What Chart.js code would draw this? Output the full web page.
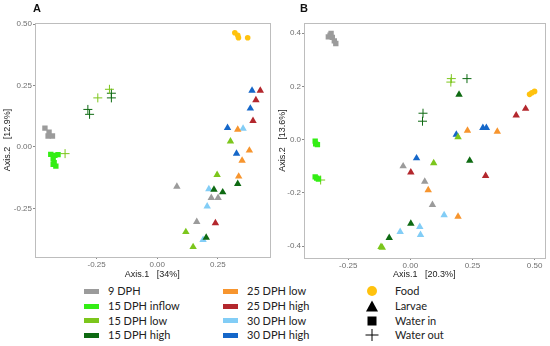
<!DOCTYPE html>
<html>
<head>
<meta charset="utf-8">
<script src="https://cdn.jsdelivr.net/npm/chart.js@4/dist/chart.umd.min.js"></script>
<style>
  body { margin: 0; background: #fff; width: 550px; height: 346px; position: relative; overflow: hidden; font-family: "Liberation Sans", Arial, sans-serif; }
  .panel { position: absolute; top: 0; width: 275px; height: 280px; }
  .tag { position: absolute; top: 2px; font-weight: bold; font-size: 11px; color: #111; }
  .leg { position: absolute; font-family: Lato, "Open Sans", sans-serif; font-size: 11px; color: #222; line-height: 14px; }
  .row { height: 14.7px; display: flex; align-items: center; white-space: nowrap; }
  .box { width: 15px; height: 5px; margin-right: 9px; }
  .sym { width: 14px; height: 12px; margin-right: 4px; }
</style>
</head>
<body>
<div class="panel" style="left:0"><canvas id="chartA" width="275" height="280"></canvas></div>
<div class="panel" style="left:275px"><canvas id="chartB" width="275" height="280"></canvas></div>
<div class="tag" style="left:33px">A</div>
<div class="tag" style="left:300px">B</div>
<div class="leg" id="legGroups1" style="left:84px;top:284px"></div>
<div class="leg" id="legGroups2" style="left:223px;top:284px"></div>
<div class="leg" id="legTypes" style="left:365px;top:284px"></div>

<script>
/* ===== DATA ===== */

const groups = ["9 DPH", "15 DPH inflow", "15 DPH low", "15 DPH high", "25 DPH low", "25 DPH high", "30 DPH low", "30 DPH high"];
const groupColors = ["#9b9b9b", "#33ee14", "#7cc61c", "#0e6a12", "#f7952e", "#b3272d", "#82cdf6", "#1567c9"];
const types = ["Food", "Larvae", "Water in", "Water out"];
const foodColor = "#ffc20e";

// panel A  [x, y]
const aFood = [[0.32, 0.465], [0.332, 0.455], [0.335, 0.445], [0.373, 0.445]];
const aIn9 = [[-0.463, 0.077], [-0.446, 0.06], [-0.432, 0.045], [-0.45, 0.045]];
const aIn15inflow = [[-0.439, -0.03], [-0.422, -0.034], [-0.409, -0.031], [-0.429, -0.048], [-0.425, -0.064], [-0.418, -0.078], [-0.429, -0.071]];
const aOut15low = [[-0.197, 0.235], [-0.245, 0.2], [-0.38, -0.027]];
const aOut15high = [[-0.189, 0.219], [-0.189, 0.2], [-0.286, 0.153], [-0.279, 0.133]];
const aLarv9 = [[0.081, -0.161], [0.223, -0.207], [0.251, -0.207], [0.163, -0.305]];
const aLarv15low = [[0.302, 0.023], [0.247, -0.113], [0.118, -0.346], [0.148, -0.407]];
const aLarv15high = [[0.332, -0.15], [0.234, -0.173], [0.27, -0.184], [0.202, -0.369]];
const aLarv25low = [[0.332, 0.071], [0.38, -0.014], [0.35, -0.055], [0.336, -0.12]];
const aLarv25high = [[0.425, 0.23], [0.407, 0.191], [0.395, 0.107], [0.24, -0.31]];
const aLarv30low = [[0.354, 0.075], [0.213, -0.171], [0.206, -0.242], [0.189, -0.378]];
const aLarv30high = [[0.391, 0.23], [0.384, 0.157], [0.29, 0.078], [0.327, -0.027]];

// panel B  [x, y]
const bFood = [[0.48, 0.17], [0.489, 0.176], [0.5, 0.181]];
const bIn9 = [[-0.33, 0.386], [-0.323, 0.392], [-0.319, 0.399], [-0.314, 0.384], [-0.306, 0.371], [-0.3, 0.361]];
const bIn15inflow = [[-0.383, -0.006], [-0.381, -0.016], [-0.374, -0.019], [-0.383, -0.14], [-0.377, -0.145], [-0.37, -0.148]];
const bOut15low = [[0.163, 0.216], [0.165, 0.229], [-0.361, -0.152]];
const bOut15high = [[0.228, 0.229], [0.051, 0.099], [0.049, 0.069]];
const bLarv9 = [[-0.029, -0.1], [0.058, -0.158], [0.089, -0.245]];
const bLarv15low = [[0.192, 0.009], [0.094, -0.088], [-0.118, -0.403], [-0.113, -0.406]];
const bLarv15high = [[0.196, 0.169], [0.239, -0.079], [0.002, -0.316], [-0.085, -0.369]];
const bLarv25low = [[0.23, 0.034], [0.35, 0.03], [0.072, -0.19], [0.192, -0.289]];
const bLarv25high = [[0.464, 0.116], [0.426, 0.091], [0.002, -0.123], [0.303, -0.136]];
const bLarv30low = [[0.136, -0.284], [0.038, -0.328], [-0.041, -0.347], [0.041, -0.358]];
const bLarv30high = [[0.185, 0.019], [0.292, 0.044], [0.306, 0.044], [0.025, -0.07]];

// axes
const aXTicks = [-0.25, 0, 0.25];
const aYTicks = [-0.25, 0, 0.25, 0.5];
const bXTicks = [-0.25, 0, 0.25, 0.5];
const bYTicks = [-0.4, -0.2, 0, 0.2, 0.4];
const aXRange = [-0.504, 0.463];
const aYRange = [-0.448, 0.505];
const bXRange = [-0.428, 0.54];
const bYRange = [-0.445, 0.438];

/* ===== HELPERS ===== */

const styleOf = {
  food: { pointStyle: "circle", radius: 2.8 },
  larvae: { pointStyle: "triangle", radius: 4.3 },
  in: { pointStyle: "rect", radius: 3.8 },
  out: { pointStyle: "cross", radius: 4.5 }
};

function makeSet(points, color, kind) {
  const s = styleOf[kind];
  return {
    data: points.map(p => ({ x: p[0], y: p[1] })),
    pointStyle: s.pointStyle,
    pointRadius: s.radius,
    backgroundColor: color,
    borderColor: color,
    borderWidth: kind === "out" ? 1 : 0
  };
}

const boxPlugin = {
  id: "box",
  afterDraw(chart) {
    const a = chart.chartArea;
    const ctx = chart.ctx;
    ctx.save();
    ctx.strokeStyle = "#bdbdbd";
    ctx.lineWidth = 1;
    ctx.strokeRect(Math.round(a.left) + 0.5, Math.round(a.top) + 0.5, Math.round(a.right - a.left), Math.round(a.bottom - a.top));
    ctx.restore();
  }
};

function axis(range, ticks, dec, title, size, pos) {
  return {
    type: "linear",
    position: pos,
    min: range[0],
    max: range[1],
    afterBuildTicks: sc => { sc.ticks = ticks.map(v => ({ value: v })); },
    afterFit: sc => { if (pos === "left") sc.width = size; else sc.height = size; },
    ticks: {
      callback: v => v.toFixed(dec),
      color: "#6e6e6e",
      font: { family: "Liberation Sans", size: 8 },
      padding: 1,
      maxRotation: 0
    },
    grid: { drawOnChartArea: false, drawTicks: true, tickLength: 2, color: "#8a8a8a" },
    border: { display: false },
    title: {
      display: true,
      text: title,
      color: "#222",
      font: { family: "Liberation Sans", size: 9 },
      padding: { top: 0, bottom: 0 }
    }
  };
}

function createChart(id, datasets, xAx, yAx, padRight) {
  return new Chart(document.getElementById(id), {
    type: "scatter",
    data: { datasets },
    options: {
      responsive: false,
      animation: false,
      layout: { padding: { top: 23, right: padRight, left: 2, bottom: 0 } },
      plugins: { legend: { display: false }, tooltip: { enabled: false } },
      scales: { x: xAx, y: yAx }
    },
    plugins: [boxPlugin]
  });
}

/* ===== CHARTS ===== */

const c = groupColors;

createChart("chartA", [
  makeSet(aIn9, c[0], "in"),
  makeSet(aIn15inflow, c[1], "in"),
  makeSet(aOut15low, c[2], "out"),
  makeSet(aOut15high, c[3], "out"),
  makeSet(aLarv9, c[0], "larvae"),
  makeSet(aLarv15low, c[2], "larvae"),
  makeSet(aLarv15high, c[3], "larvae"),
  makeSet(aLarv25low, c[4], "larvae"),
  makeSet(aLarv25high, c[5], "larvae"),
  makeSet(aLarv30low, c[6], "larvae"),
  makeSet(aLarv30high, c[7], "larvae"),
  makeSet(aFood, foodColor, "food")
], axis(aXRange, aXTicks, 2, "Axis.1   [34%]", 23, "bottom"),
   axis(aYRange, aYTicks, 2, "Axis.2   [12.9%]", 33, "left"), 4);

createChart("chartB", [
  makeSet(bIn9, c[0], "in"),
  makeSet(bIn15inflow, c[1], "in"),
  makeSet(bOut15low, c[2], "out"),
  makeSet(bOut15high, c[3], "out"),
  makeSet(bLarv9, c[0], "larvae"),
  makeSet(bLarv15low, c[2], "larvae"),
  makeSet(bLarv15high, c[3], "larvae"),
  makeSet(bLarv25low, c[4], "larvae"),
  makeSet(bLarv25high, c[5], "larvae"),
  makeSet(bLarv30low, c[6], "larvae"),
  makeSet(bLarv30high, c[7], "larvae"),
  makeSet(bFood, foodColor, "food")
], axis(bXRange, bXTicks, 2, "Axis.1   [20.3%]", 22, "bottom"),
   axis(bYRange, bYTicks, 1, "Axis.2   [13.6%]", 27, "left"), 5);

/* ===== LEGEND ===== */

function groupRows(id, from, to) {
  document.getElementById(id).innerHTML = groups.slice(from, to).map((g, i) =>
    `<div class="row"><span class="box" style="background:${groupColors[from + i]}"></span>${g}</div>`
  ).join("");
}
groupRows("legGroups1", 0, 4);
groupRows("legGroups2", 4, 8);

const typeIcons = [
  `<svg class="sym" viewBox="0 0 14 12"><circle cx="7" cy="6" r="5" fill="${foodColor}"/></svg>`,
  `<svg class="sym" viewBox="0 0 14 12"><polygon points="7,0.5 13,11.5 1,11.5" fill="#000"/></svg>`,
  `<svg class="sym" viewBox="0 0 14 12"><rect x="2.5" y="1.5" width="9" height="9" fill="#000"/></svg>`,
  `<svg class="sym" viewBox="0 0 14 12"><path d="M7 0V12M0.5 6H13.5" stroke="#000" stroke-width="1"/></svg>`
];
document.getElementById("legTypes").innerHTML = types.map((t, i) =>
  `<div class="row">${typeIcons[i]}<span style="margin-left:12px">${t}</span></div>`
).join("");
</script>
</body>
</html>
